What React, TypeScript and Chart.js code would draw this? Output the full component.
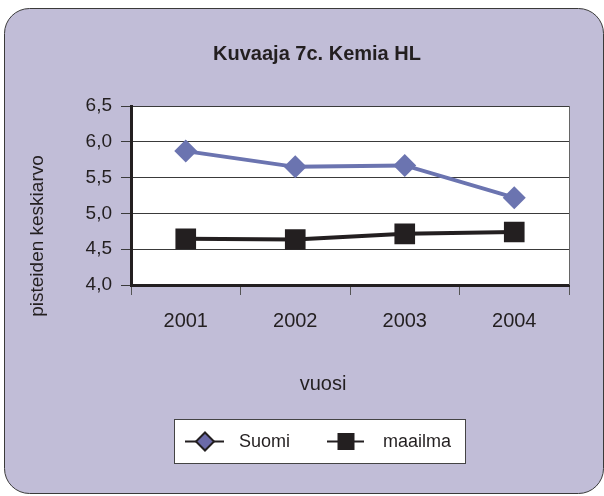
import { useEffect, useRef } from "react";
import { Chart, registerables } from "chart.js";

Chart.register(...registerables);

const title = "Kuvaaja 7c. Kemia HL";
const xTitle = "vuosi";
const yTitle = "pisteiden keskiarvo";
const categories = ["2001", "2002", "2003", "2004"];
const suomi = [5.87, 5.65, 5.67, 5.22];
const maailma = [4.645, 4.635, 4.715, 4.74];
const seriesNames = ["Suomi", "maailma"];
const yMin = 4.0;
const yMax = 6.5;
const yStep = 0.5;

const BG = "#c1bdd7";
const BLUE = "#6b74b0";
const BLACK = "#231f20";
const FONT = "'Liberation Sans', Arial, sans-serif";

function roundRect(ctx: CanvasRenderingContext2D, x: number, y: number, w: number, h: number, r: number) {
  ctx.beginPath();
  ctx.moveTo(x + r, y);
  ctx.lineTo(x + w - r, y);
  ctx.arcTo(x + w, y, x + w, y + r, r);
  ctx.lineTo(x + w, y + h - r);
  ctx.arcTo(x + w, y + h, x + w - r, y + h, r);
  ctx.lineTo(x + r, y + h);
  ctx.arcTo(x, y + h, x, y + h - r, r);
  ctx.lineTo(x, y + r);
  ctx.arcTo(x, y, x + r, y, r);
  ctx.closePath();
}

const decor = {
  id: "decor",
  beforeDraw(chart: any) {
    const ctx = chart.ctx as CanvasRenderingContext2D;
    const a = chart.chartArea;
    ctx.save();
    roundRect(ctx, 4.5, 8.5, 599, 485, 25);
    ctx.fillStyle = BG;
    ctx.fill();
    ctx.strokeStyle = "#3a3a3a";
    ctx.lineWidth = 1;
    ctx.stroke();
    ctx.fillStyle = "#ffffff";
    ctx.fillRect(a.left, a.top, a.right - a.left, a.bottom - a.top);
    ctx.restore();
  },
  afterDraw(chart: any) {
    const ctx = chart.ctx as CanvasRenderingContext2D;
    const a = chart.chartArea;
    ctx.save();
    // right border
    ctx.strokeStyle = "#666";
    ctx.lineWidth = 1;
    ctx.beginPath();
    ctx.moveTo(Math.round(a.right) + 0.5, a.top);
    ctx.lineTo(Math.round(a.right) + 0.5, a.bottom);
    ctx.stroke();

    ctx.fillStyle = BLACK;
    ctx.textBaseline = "alphabetic";
    ctx.textAlign = "center";
    ctx.font = `bold 20px ${FONT}`;
    ctx.fillText(title, 317, 60);
    ctx.font = `20px ${FONT}`;
    ctx.fillText(xTitle, 323, 390);
    ctx.save();
    ctx.translate(43, 236);
    ctx.rotate(-Math.PI / 2);
    ctx.font = `19px ${FONT}`;
    ctx.fillText(yTitle, 0, 0);
    ctx.restore();

    // legend
    ctx.fillStyle = "#ffffff";
    ctx.fillRect(174.5, 419.5, 291, 44);
    ctx.strokeStyle = "#444";
    ctx.lineWidth = 1;
    ctx.strokeRect(174.5, 419.5, 291, 44);
    const ly = 441.5;
    ctx.strokeStyle = BLACK;
    ctx.lineWidth = 2;
    ctx.beginPath();
    ctx.moveTo(185, ly);
    ctx.lineTo(224, ly);
    ctx.moveTo(327, ly);
    ctx.lineTo(364, ly);
    ctx.stroke();
    ctx.beginPath();
    ctx.moveTo(205, ly - 9);
    ctx.lineTo(214, ly);
    ctx.lineTo(205, ly + 9);
    ctx.lineTo(196, ly);
    ctx.closePath();
    ctx.fillStyle = "#6b6aa8";
    ctx.fill();
    ctx.lineWidth = 2;
    ctx.stroke();
    ctx.fillStyle = BLACK;
    ctx.fillRect(337.5, ly - 8.5, 17, 17);
    ctx.font = `18px ${FONT}`;
    ctx.textAlign = "left";
    ctx.textBaseline = "middle";
    ctx.fillText(seriesNames[0], 239, ly + 1);
    ctx.fillText(seriesNames[1], 383, ly + 1);
    ctx.restore();
  },
};

export default function App() {
  const ref = useRef<HTMLCanvasElement>(null);
  useEffect(() => {
    document.body.style.margin = "0";
    const chart = new Chart(ref.current!, {
      type: "line",
      data: {
        labels: categories,
        datasets: [
          {
            label: seriesNames[0],
            data: suomi,
            borderColor: BLUE,
            backgroundColor: BLUE,
            borderWidth: 4,
            pointStyle: "rectRot",
            pointRadius: 11.5,
            pointBorderWidth: 0,
            pointBackgroundColor: BLUE,
            tension: 0,
          },
          {
            label: seriesNames[1],
            data: maailma,
            borderColor: BLACK,
            backgroundColor: BLACK,
            borderWidth: 4,
            pointStyle: "rect",
            pointRadius: 14.6,
            pointBorderWidth: 0,
            pointBackgroundColor: BLACK,
            tension: 0,
          },
        ],
      },
      options: {
        animation: false,
        responsive: false,
        layout: { padding: { left: 0, top: 106, right: 35, bottom: 0 } },
        plugins: { legend: { display: false }, title: { display: false }, tooltip: { enabled: false } },
        scales: {
          x: {
            type: "category",
            offset: true,
            afterFit: (s: any) => {
              s.height = 211;
            },
            grid: { offset: true, drawOnChartArea: false, tickLength: 10, color: "#555", lineWidth: 1 },
            border: { color: BLACK, width: 3 },
            ticks: { font: { family: FONT, size: 20 }, color: BLACK, padding: 14 },
          },
          y: {
            min: yMin,
            max: yMax,
            afterFit: (s: any) => {
              s.width = 131;
            },
            ticks: {
              stepSize: yStep,
              font: { family: FONT, size: 19 },
              color: BLACK,
              padding: 9,
              callback: (v: any) => Number(v).toFixed(1).replace(".", ","),
            },
            grid: { color: "#3a3a3a", lineWidth: 1, tickLength: 10 },
            border: { color: BLACK, width: 3 },
          },
        },
      },
      plugins: [decor],
    });
    return () => chart.destroy();
  }, []);
  return <canvas ref={ref} width={604} height={496} style={{ display: "block" }} />;
}
